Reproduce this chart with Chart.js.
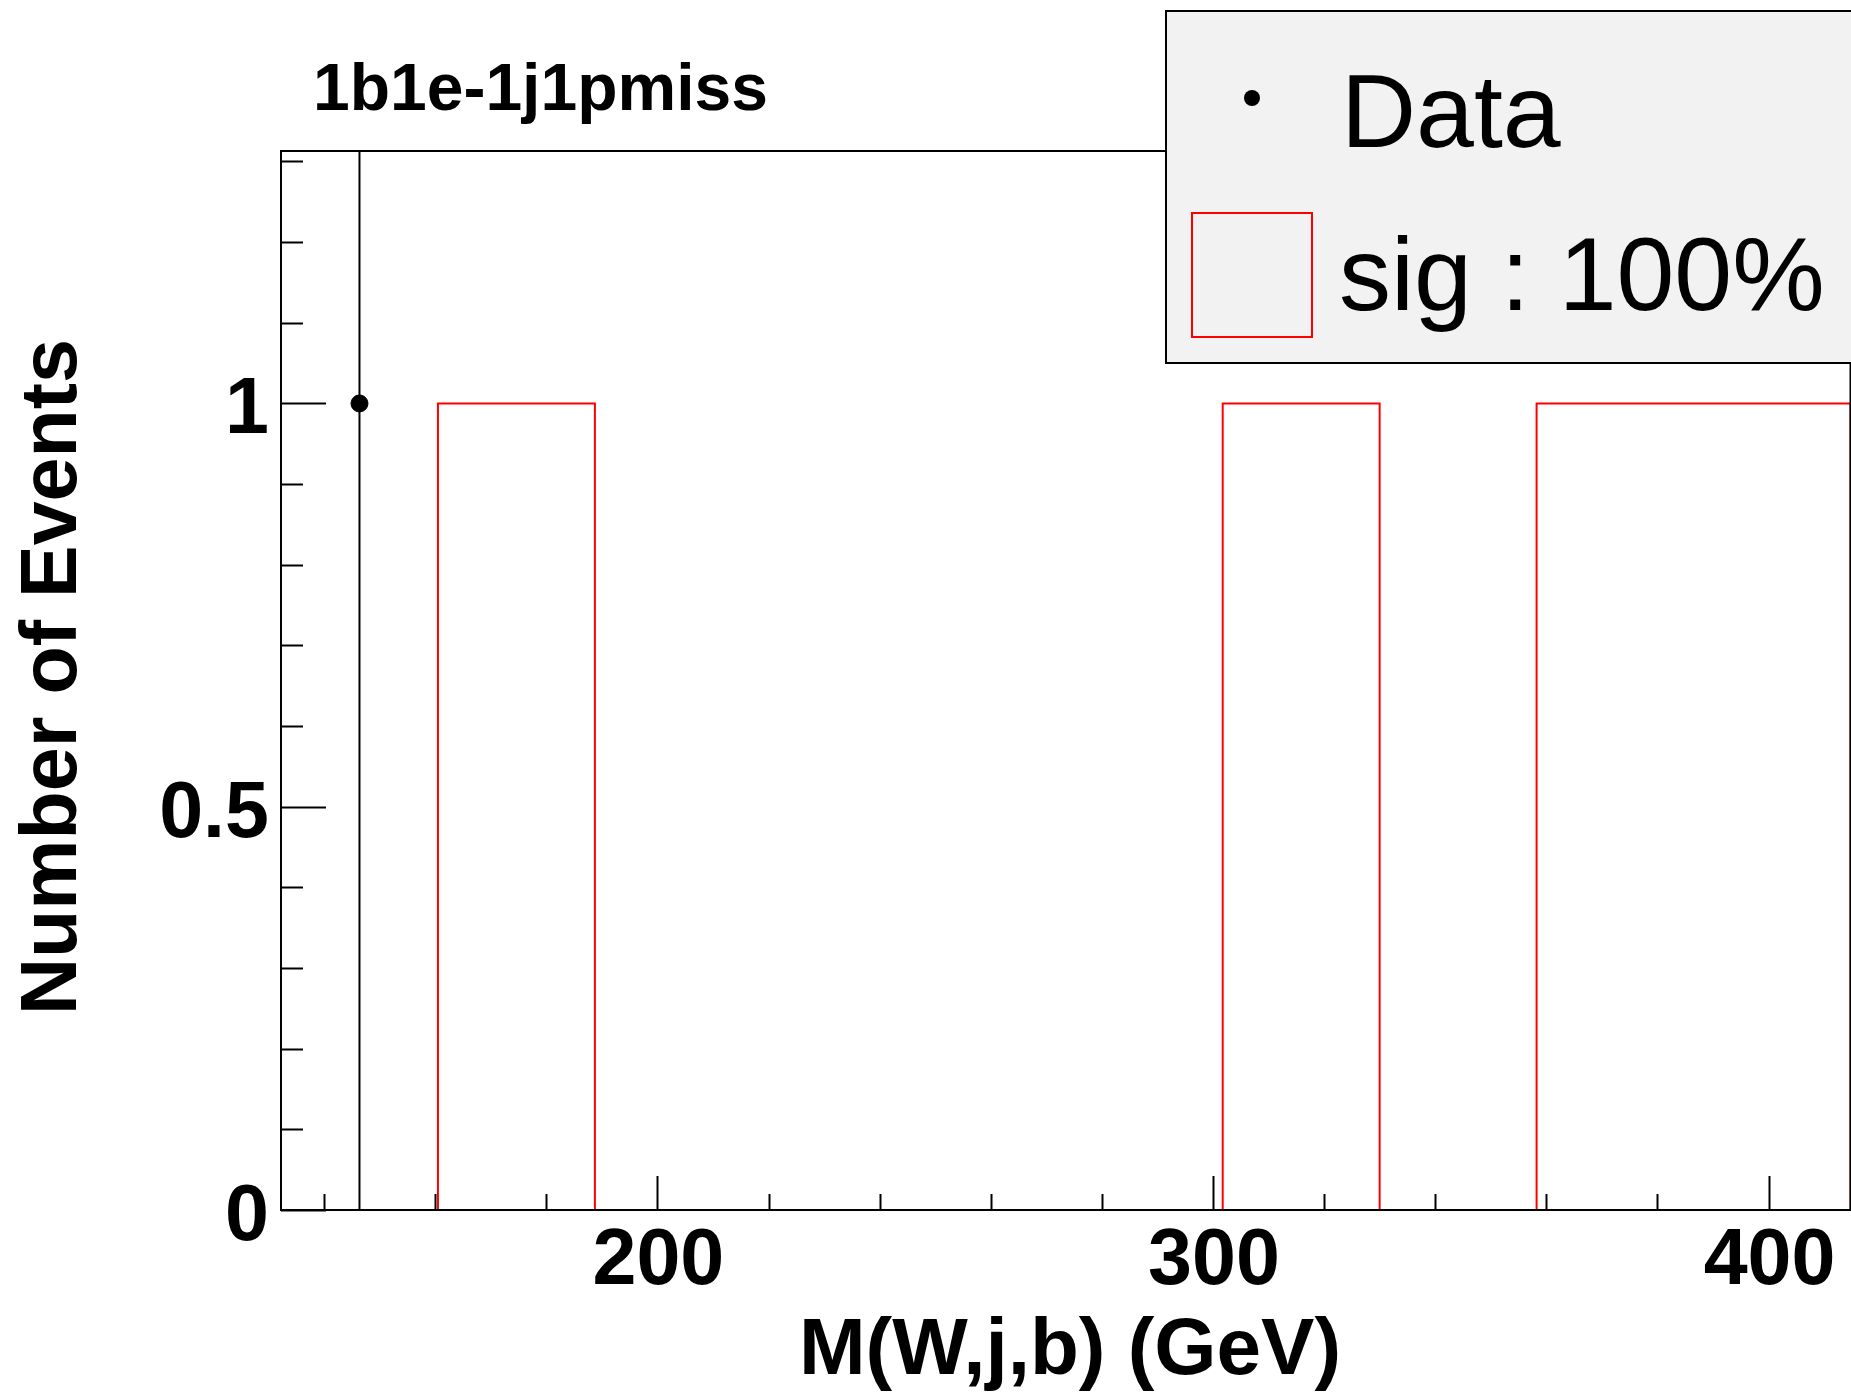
<!DOCTYPE html>
<html>
<head>
<meta charset="utf-8">
<script src="https://cdn.jsdelivr.net/npm/chart.js@4/dist/chart.umd.min.js"></script>
<style>
  html, body { margin: 0; padding: 0; background: #fff; overflow: hidden; }
  #wrap { width: 1851px; height: 1395px; overflow: hidden; }
</style>
</head>
<body>
<div id="wrap"><canvas id="histo" width="1860" height="1395"></canvas></div>
<script>
'use strict'

// histogram binning
const binLow = 132.25;
const binWidth = 28.25;
const nBins = 10;

// bin contents
const sigCounts = [0, 1, 0, 0, 0, 0, 1, 0, 1, 1];
const dataCounts = [1, 0, 0, 0, 0, 0, 0, 0, 0, 0];

// axes
const xMajorTicks = [200, 300, 400];
const xMinorStep = 20;
const yMajorTicks = [0, 0.5, 1];
const yTickLabels = ['0', '0.5', '1'];
const yMinorStep = 0.1;
const yMax = 1.313;

const plotTitle = '1b1e-1j1pmiss';
const xTitle = 'M(W,j,b) (GeV)';
const yTitle = 'Number of Events';

// red outline of the signal histogram
const sigOutline = [{x: binLow, y: 0}];
sigCounts.forEach(function(v, i) {
  sigOutline.push({x: binLow + i * binWidth, y: v});
  sigOutline.push({x: binLow + (i + 1) * binWidth, y: v});
});
sigOutline.push({x: binLow + nBins * binWidth, y: 0});

// data points and poisson error bars (empty bins not drawn)
const dataPoints = [];
const errBars = [];
dataCounts.forEach(function(v, i) {
  if (v <= 0) return;
  const xc = binLow + (i + 0.5) * binWidth;
  dataPoints.push({x: xc, y: v});
  errBars.push({x: xc, y: v - Math.sqrt(v)});
  errBars.push({x: xc, y: v + Math.sqrt(v)});
  errBars.push({x: xc, y: null});
});

const boldFont = function(px) { return 'bold ' + px + 'px "Liberation Sans", Arial, sans-serif'; };
const plainFont = function(px) { return px + 'px "Liberation Sans", Arial, sans-serif'; };

const rootFrame = {
  id: 'rootFrame',
  afterDatasetsDraw: function(chart) {
    const ctx = chart.ctx;
    const a = chart.chartArea;
    const xs = chart.scales.x, ys = chart.scales.y;
    ctx.save();
    ctx.strokeStyle = '#000';
    ctx.lineWidth = 2;
    ctx.strokeRect(a.left, a.top, a.right - a.left, a.bottom - a.top);

    // y ticks
    ctx.beginPath();
    for (let v = 0; v <= yMax + 1e-9; v += yMinorStep) {
      const y = Math.round(ys.getPixelForValue(v)) + 0.5;
      const major = yMajorTicks.some(function(t) { return Math.abs(t - v) < 1e-6; });
      ctx.moveTo(a.left, y);
      ctx.lineTo(a.left + (major ? 45 : 22), y);
    }
    // x ticks
    const xMin = xs.min, xMax = xs.max;
    for (let v = Math.ceil(xMin / xMinorStep) * xMinorStep; v <= xMax; v += xMinorStep) {
      const x = Math.round(xs.getPixelForValue(v)) + 0.5;
      const major = xMajorTicks.indexOf(v) >= 0;
      ctx.moveTo(x, a.bottom);
      ctx.lineTo(x, a.bottom - (major ? 34 : 16));
    }
    ctx.stroke();

    // tick labels
    ctx.fillStyle = '#000';
    ctx.font = boldFont(79);
    ctx.textAlign = 'right';
    ctx.textBaseline = 'middle';
    yMajorTicks.forEach(function(t, i) {
      ctx.fillText(yTickLabels[i], a.left - 12, ys.getPixelForValue(t) + 8);
    });
    ctx.textAlign = 'center';
    ctx.textBaseline = 'alphabetic';
    xMajorTicks.forEach(function(t) {
      ctx.fillText(String(t), xs.getPixelForValue(t) + 1, 1284);
    });

    // axis titles
    ctx.font = boldFont(80);
    ctx.textAlign = 'center';
    ctx.fillText(xTitle, 1070, 1374);
    ctx.save();
    ctx.translate(76, 677);
    ctx.rotate(-Math.PI / 2);
    ctx.font = boldFont(79);
    ctx.fillText(yTitle, 0, 0);
    ctx.restore();

    // pad title
    ctx.font = boldFont(66);
    ctx.textAlign = 'left';
    ctx.fillText(plotTitle, 313, 110);

    // legend
    const ds = chart.data.datasets;
    ctx.fillStyle = '#f2f2f2';
    ctx.fillRect(1166, 11, 900, 352);
    ctx.strokeStyle = '#000';
    ctx.lineWidth = 2;
    ctx.strokeRect(1166, 11, 900, 352);
    ctx.fillStyle = '#000';
    ctx.beginPath();
    ctx.arc(1252, 98, 8, 0, Math.PI * 2);
    ctx.fill();
    ctx.strokeStyle = 'red';
    ctx.strokeRect(1192, 213, 120, 124);
    ctx.font = plainFont(104);
    ctx.fillText(ds[2].label, 1341, 147);
    ctx.fillText(ds[0].label, 1339, 310);
    ctx.restore();
  }
};

const ctx = document.getElementById('histo').getContext('2d');
const chart = new Chart(ctx, {
  type: 'line',
  data: {
    datasets: [
      {
        label: 'sig : 100%',
        data: sigOutline,
        borderColor: 'rgb(255,0,0)',
        borderWidth: 2,
        pointRadius: 0,
        fill: false,
        tension: 0,
        order: 3
      },
      {
        label: 'err',
        data: errBars,
        borderColor: '#000',
        borderWidth: 2,
        pointRadius: 0,
        spanGaps: false,
        fill: false,
        order: 2
      },
      {
        label: 'Data',
        type: 'scatter',
        data: dataPoints,
        backgroundColor: '#000',
        borderColor: '#000',
        pointRadius: 8.5,
        pointStyle: 'circle',
        order: 1
      }
    ]
  },
  options: {
    responsive: false,
    animation: false,
    events: [],
    layout: {
      padding: {left: 281, top: 151, right: 6.6, bottom: 185}
    },
    scales: {
      x: {type: 'linear', min: binLow, max: binLow + nBins * binWidth, display: false},
      y: {type: 'linear', min: 0, max: yMax, display: false}
    },
    plugins: {
      legend: {display: false},
      tooltip: {enabled: false},
      title: {display: false}
    }
  },
  plugins: [rootFrame]
});
</script>
</body>
</html>
